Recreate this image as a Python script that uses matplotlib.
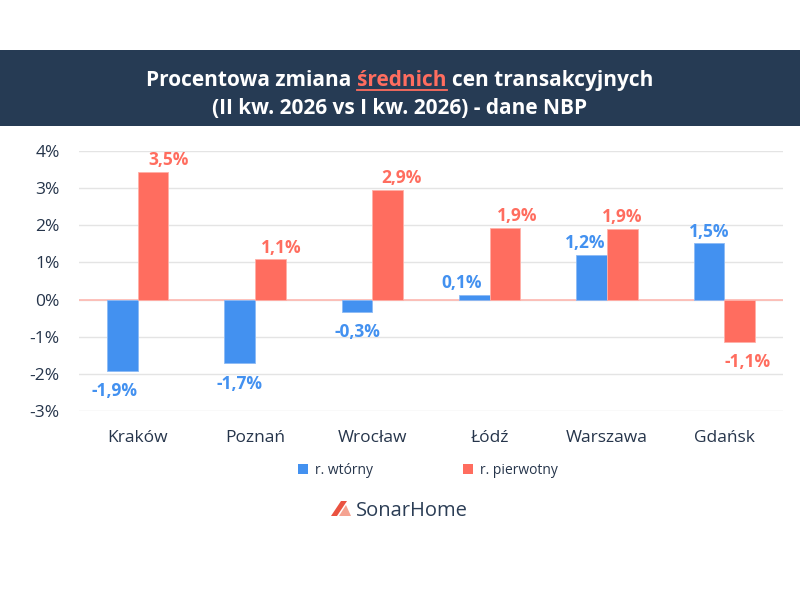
""" Procentowa zmiana srednich cen transakcyjnych - wykres slupkowy """

import matplotlib
matplotlib.use('Agg')
import matplotlib.pyplot as plt
from matplotlib.patches import Rectangle, Polygon, Patch
from matplotlib.lines import Line2D
import numpy as np

# dane
cities = ['Kraków', 'Poznań', 'Wrocław', 'Łódź', 'Warszawa', 'Gdańsk']
wtorny = [-1.92, -1.72, -0.33, 0.13, 1.21, 1.51]
pierwotny = [3.44, 1.08, 2.95, 1.93, 1.90, -1.15]
wtorny_labels = ['-1,9%', '-1,7%', '-0,3%', '0,1%', '1,2%', '1,5%']
pierwotny_labels = ['3,5%', '1,1%', '2,9%', '1,9%', '1,9%', '-1,1%']
y_ticks = [-3, -2, -1, 0, 1, 2, 3, 4]
series_names = ['r. wtórny', 'r. pierwotny']

# przesuniecia etykiet (punkty)
nudge_w = [-6, 0, 0, -9, -5, 0]
nudge_p = [11, 8, 10, 9, 0, 6]

BLUE = '#4391f0'
RED = '#ff6d5f'
NAVY = '#263b54'
TEXT = '#26354b'
FONT = 'Open Sans'

fig = plt.figure(figsize=(8, 6), dpi=100)
fig.patch.set_facecolor('white')

# pasek tytulu
fig.patches.append(Rectangle((0, 1 - 126 / 600), 1, 76 / 600, transform=fig.transFigure,
                             facecolor=NAVY, edgecolor='none', zorder=0))

ax = fig.add_axes([79 / 800, 1 - 411 / 600, 704 / 800, 260 / 600])
x = np.arange(len(cities))
w = 0.26
ax.bar(x - w / 2, wtorny, w, color=BLUE, edgecolor='#8cbaf5', linewidth=0.6, zorder=3)
ax.bar(x + w / 2, pierwotny, w, color=RED, edgecolor='#ffb0a8', linewidth=0.6, zorder=3)
ax.axhline(0, color='#ffb8b0', lw=1.2, zorder=2)

ax.set_xlim(-0.5, len(cities) - 0.5)
ax.set_ylim(-3, 4)
ax.set_yticks(y_ticks)
ax.set_yticklabels(['%d%%' % t for t in y_ticks])
ax.set_xticks(x)
ax.set_xticklabels(cities)
ax.grid(axis='y', color='#e4e4e4', lw=1, zorder=0)
ax.tick_params(length=0, labelsize=12.5, labelcolor=TEXT)
ax.tick_params(axis='y', pad=14)
ax.tick_params(axis='x', pad=14)
for lab in ax.get_xticklabels() + ax.get_yticklabels():
    lab.set_fontfamily(FONT)
for s in ax.spines.values():
    s.set_visible(False)
ax.set_axisbelow(True)

# etykiety wartosci
for i in range(len(cities)):
    for val, txt, xx, col, dx in [(wtorny[i], wtorny_labels[i], x[i] - w / 2, BLUE, nudge_w[i]),
                                  (pierwotny[i], pierwotny_labels[i], x[i] + w / 2, RED, nudge_p[i])]:
        if val >= 0:
            ax.annotate(txt, (xx, val), xytext=(dx, 5), textcoords='offset points',
                        ha='center', va='baseline', color=col, fontsize=12.5,
                        fontweight='bold', family=FONT)
        else:
            ax.annotate(txt, (xx, val), xytext=(dx, -8), textcoords='offset points',
                        ha='center', va='top', color=col, fontsize=12.5,
                        fontweight='bold', family=FONT)

# tytul
fig.canvas.draw()
r = fig.canvas.get_renderer()


def text_width(s, size):
    t = fig.text(0, 0, s, fontsize=size, fontweight='bold', family=FONT)
    wdt = t.get_window_extent(r).width
    t.remove()
    return wdt


tsize = 15
p1, p2, p3 = 'Procentowa zmiana ', 'średnich', ' cen transakcyjnych'
full = text_width(p1 + p2 + p3, tsize)
pre = text_width(p1 + p2, tsize)
w2 = text_width(p2, tsize)
x0 = 400 - full / 2
y1 = 600 - 86
title_kw = dict(fontsize=tsize, fontweight='bold', family=FONT, va='baseline')
fig.text(x0 / 800, y1 / 600, p1.strip(), color='white', ha='left', **title_kw)
fig.text((x0 + pre - w2) / 800, y1 / 600, p2, color=RED, ha='left', **title_kw)
fig.text((x0 + full) / 800, y1 / 600, p3.strip(), color='white', ha='right', **title_kw)
fig.lines.append(Line2D([(x0 + pre - w2) / 800, (x0 + pre) / 800], [(y1 - 4) / 600] * 2,
                        transform=fig.transFigure, color=RED, lw=1.3))
fig.text(0.5, (600 - 114) / 600, '(II kw. 2026 vs I kw. 2026) - dane NBP', color='white',
         ha='center', **title_kw)

# legenda
handles = [Patch(facecolor=BLUE), Patch(facecolor=RED)]
fig.legend(handles, series_names, loc='center', bbox_to_anchor=(428 / 800, 1 - 470 / 600),
           ncol=2, frameon=False, handlelength=0.7, handleheight=0.7, handletextpad=0.5,
           columnspacing=6.5, prop={'family': FONT, 'size': 10}, labelcolor=TEXT)


# logo
def px(pts):
    return [(a / 800, 1 - b / 600) for a, b in pts]


fig.patches.append(Polygon(px([(331, 516), (341, 501), (347, 501), (337, 516)]),
                           closed=True, transform=fig.transFigure, facecolor='#ea5240',
                           edgecolor='none'))
fig.patches.append(Polygon(px([(339, 516), (346, 505), (351, 516)]),
                           closed=True, transform=fig.transFigure, facecolor='#f5a391',
                           edgecolor='none'))
fig.text(356 / 800, 1 - 516 / 600, 'SonarHome', fontsize=14.5, family=FONT, color='#2b3d55',
         va='baseline', ha='left')

fig.savefig('out.png', dpi=100)
